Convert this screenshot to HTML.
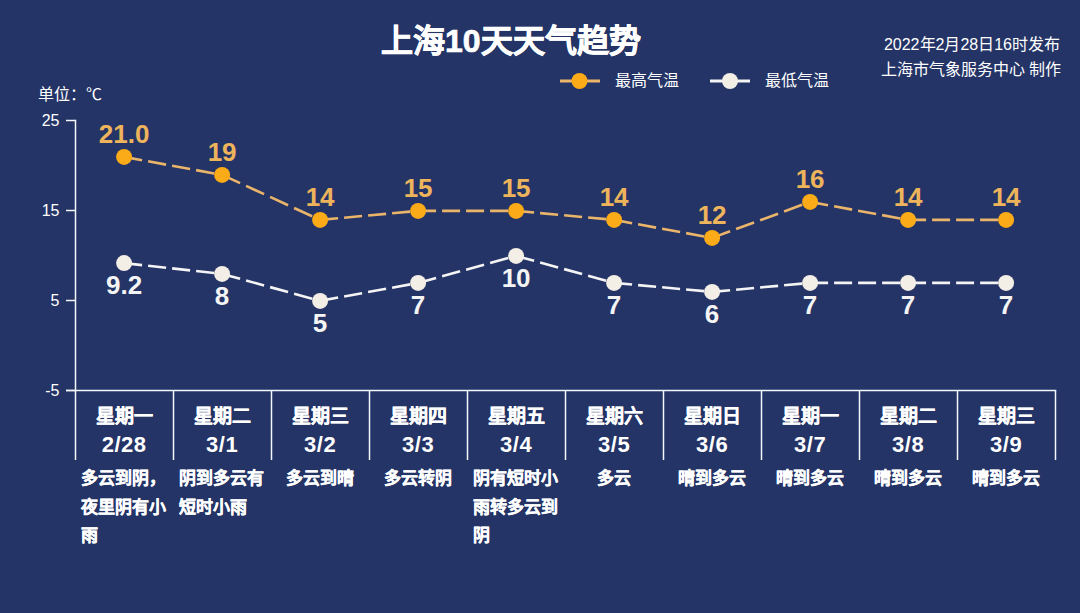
<!DOCTYPE html>
<html lang="zh-CN"><head><meta charset="utf-8"><style>
html,body{margin:0;padding:0;}
body{width:1080px;height:613px;background:#243466;position:relative;overflow:hidden;font-family:"Liberation Sans",sans-serif;}
.t{position:absolute;white-space:nowrap;line-height:1.2;}
svg{position:absolute;left:0;top:0;}
</style></head><body>
<svg width="1080" height="613" viewBox="0 0 1080 613">
<line x1="75.5" y1="119.75" x2="75.5" y2="390.5" stroke="#f3f7fd" stroke-width="1.5"/>
<line x1="66" y1="120.5" x2="75.5" y2="120.5" stroke="#f3f7fd" stroke-width="1.5"/>
<line x1="66" y1="210.5" x2="75.5" y2="210.5" stroke="#f3f7fd" stroke-width="1.5"/>
<line x1="66" y1="300.5" x2="75.5" y2="300.5" stroke="#f3f7fd" stroke-width="1.5"/>
<line x1="66" y1="390.5" x2="75.5" y2="390.5" stroke="#f3f7fd" stroke-width="1.5"/>
<line x1="66" y1="390.5" x2="1056.25" y2="390.5" stroke="#f3f7fd" stroke-width="1.5"/>
<line x1="75.5" y1="390.5" x2="75.5" y2="460" stroke="#f3f7fd" stroke-width="1.5"/>
<line x1="173.5" y1="390.5" x2="173.5" y2="460" stroke="#f3f7fd" stroke-width="1.5"/>
<line x1="271.5" y1="390.5" x2="271.5" y2="460" stroke="#f3f7fd" stroke-width="1.5"/>
<line x1="369.5" y1="390.5" x2="369.5" y2="460" stroke="#f3f7fd" stroke-width="1.5"/>
<line x1="467.5" y1="390.5" x2="467.5" y2="460" stroke="#f3f7fd" stroke-width="1.5"/>
<line x1="565.5" y1="390.5" x2="565.5" y2="460" stroke="#f3f7fd" stroke-width="1.5"/>
<line x1="663.5" y1="390.5" x2="663.5" y2="460" stroke="#f3f7fd" stroke-width="1.5"/>
<line x1="761.5" y1="390.5" x2="761.5" y2="460" stroke="#f3f7fd" stroke-width="1.5"/>
<line x1="859.5" y1="390.5" x2="859.5" y2="460" stroke="#f3f7fd" stroke-width="1.5"/>
<line x1="957.5" y1="390.5" x2="957.5" y2="460" stroke="#f3f7fd" stroke-width="1.5"/>
<line x1="1055.5" y1="390.5" x2="1055.5" y2="460" stroke="#f3f7fd" stroke-width="1.5"/>
<path d="M124.1 156.9L222.1 174.9" pathLength="98" fill="none" stroke="#eab56a" stroke-width="2.6" stroke-dasharray="18 6"/>
<path d="M222.1 174.9L320.1 219.9" pathLength="98" fill="none" stroke="#eab56a" stroke-width="2.6" stroke-dasharray="18 6"/>
<path d="M320.1 219.9L418.1 210.9" pathLength="98" fill="none" stroke="#eab56a" stroke-width="2.6" stroke-dasharray="18 6"/>
<path d="M418.1 210.9L516.1 210.9" pathLength="98" fill="none" stroke="#eab56a" stroke-width="2.6" stroke-dasharray="18 6"/>
<path d="M516.1 210.9L614.1 219.9" pathLength="98" fill="none" stroke="#eab56a" stroke-width="2.6" stroke-dasharray="18 6"/>
<path d="M614.1 219.9L712.1 237.9" pathLength="98" fill="none" stroke="#eab56a" stroke-width="2.6" stroke-dasharray="18 6"/>
<path d="M712.1 237.9L810.1 201.9" pathLength="98" fill="none" stroke="#eab56a" stroke-width="2.6" stroke-dasharray="18 6"/>
<path d="M810.1 201.9L908.1 219.9" pathLength="98" fill="none" stroke="#eab56a" stroke-width="2.6" stroke-dasharray="18 6"/>
<path d="M908.1 219.9L1006.1 219.9" pathLength="98" fill="none" stroke="#eab56a" stroke-width="2.6" stroke-dasharray="18 6"/>
<path d="M124.1 263.1L222.1 273.9" pathLength="98" fill="none" stroke="#f4f4f4" stroke-width="2.6" stroke-dasharray="18 6"/>
<path d="M222.1 273.9L320.1 300.9" pathLength="98" fill="none" stroke="#f4f4f4" stroke-width="2.6" stroke-dasharray="18 6"/>
<path d="M320.1 300.9L418.1 282.9" pathLength="98" fill="none" stroke="#f4f4f4" stroke-width="2.6" stroke-dasharray="18 6"/>
<path d="M418.1 282.9L516.1 255.9" pathLength="98" fill="none" stroke="#f4f4f4" stroke-width="2.6" stroke-dasharray="18 6"/>
<path d="M516.1 255.9L614.1 282.9" pathLength="98" fill="none" stroke="#f4f4f4" stroke-width="2.6" stroke-dasharray="18 6"/>
<path d="M614.1 282.9L712.1 291.9" pathLength="98" fill="none" stroke="#f4f4f4" stroke-width="2.6" stroke-dasharray="18 6"/>
<path d="M712.1 291.9L810.1 282.9" pathLength="98" fill="none" stroke="#f4f4f4" stroke-width="2.6" stroke-dasharray="18 6"/>
<path d="M810.1 282.9L908.1 282.9" pathLength="98" fill="none" stroke="#f4f4f4" stroke-width="2.6" stroke-dasharray="18 6"/>
<path d="M908.1 282.9L1006.1 282.9" pathLength="98" fill="none" stroke="#f4f4f4" stroke-width="2.6" stroke-dasharray="18 6"/>
<circle cx="124.1" cy="156.9" r="8" fill="#fbaa18"/>
<circle cx="124.1" cy="263.1" r="8" fill="#f3eee6"/>
<circle cx="222.1" cy="174.9" r="8" fill="#fbaa18"/>
<circle cx="222.1" cy="273.9" r="8" fill="#f3eee6"/>
<circle cx="320.1" cy="219.9" r="8" fill="#fbaa18"/>
<circle cx="320.1" cy="300.9" r="8" fill="#f3eee6"/>
<circle cx="418.1" cy="210.9" r="8" fill="#fbaa18"/>
<circle cx="418.1" cy="282.9" r="8" fill="#f3eee6"/>
<circle cx="516.1" cy="210.9" r="8" fill="#fbaa18"/>
<circle cx="516.1" cy="255.9" r="8" fill="#f3eee6"/>
<circle cx="614.1" cy="219.9" r="8" fill="#fbaa18"/>
<circle cx="614.1" cy="282.9" r="8" fill="#f3eee6"/>
<circle cx="712.1" cy="237.9" r="8" fill="#fbaa18"/>
<circle cx="712.1" cy="291.9" r="8" fill="#f3eee6"/>
<circle cx="810.1" cy="201.9" r="8" fill="#fbaa18"/>
<circle cx="810.1" cy="282.9" r="8" fill="#f3eee6"/>
<circle cx="908.1" cy="219.9" r="8" fill="#fbaa18"/>
<circle cx="908.1" cy="282.9" r="8" fill="#f3eee6"/>
<circle cx="1006.1" cy="219.9" r="8" fill="#fbaa18"/>
<circle cx="1006.1" cy="282.9" r="8" fill="#f3eee6"/>
<line x1="560" y1="81" x2="600" y2="81" stroke="#eab56a" stroke-width="3"/>
<circle cx="579.5" cy="81" r="8" fill="#fbaa18"/>
<line x1="710" y1="81" x2="750" y2="81" stroke="#f4f4f4" stroke-width="3"/>
<circle cx="730" cy="81" r="8" fill="#f3eee6"/>
</svg>
<div class="t" style="left:381px;top:22px;font-size:32px;color:#fff;font-weight:bold;-webkit-text-stroke:0.7px #fff;">上海10天天气趋势</div>
<div class="t" style="left:1060px;top:34.5px;font-size:16px;color:#fff;width:300px;margin-left:-300px;text-align:right;">2022年2月28日16时发布</div>
<div class="t" style="left:1061px;top:60px;font-size:16px;color:#fff;width:300px;margin-left:-300px;text-align:right;">上海市气象服务中心 制作</div>
<div class="t" style="left:615px;top:71px;font-size:16px;color:#fff;">最高气温</div>
<div class="t" style="left:765px;top:71px;font-size:16px;color:#fff;">最低气温</div>
<div class="t" style="left:38px;top:84.5px;font-size:16px;color:#fff;">单位：℃</div>
<div class="t" style="left:59.5px;top:110.5px;font-size:16px;color:#fff;width:40px;margin-left:-40px;text-align:right;">25</div>
<div class="t" style="left:59.5px;top:200.5px;font-size:16px;color:#fff;width:40px;margin-left:-40px;text-align:right;">15</div>
<div class="t" style="left:59.5px;top:290.5px;font-size:16px;color:#fff;width:40px;margin-left:-40px;text-align:right;">5</div>
<div class="t" style="left:59.5px;top:380.5px;font-size:16px;color:#fff;width:40px;margin-left:-40px;text-align:right;">-5</div>
<div class="t" style="left:124.1px;top:118.5px;font-size:26px;color:#eeb45c;font-weight:bold;width:90px;margin-left:-45.0px;text-align:center;">21.0</div>
<div class="t" style="left:124.1px;top:269.70000000000005px;font-size:26px;color:#f4f4f4;font-weight:bold;width:90px;margin-left:-45.0px;text-align:center;">9.2</div>
<div class="t" style="left:124.1px;top:405.5px;font-size:19px;color:#fff;font-weight:bold;width:98px;margin-left:-49.0px;text-align:center;-webkit-text-stroke:0.3px #fff;">星期一</div>
<div class="t" style="left:124.1px;top:431.5px;font-size:22px;color:#fff;font-weight:bold;width:98px;margin-left:-49.0px;text-align:center;letter-spacing:0.5px;">2/28</div>
<div class="t" style="left:81.0px;top:469.0px;font-size:17px;color:#fff;font-weight:bold;-webkit-text-stroke:0.3px #fff;">多云到阴，</div>
<div class="t" style="left:81.0px;top:497.6px;font-size:17px;color:#fff;font-weight:bold;-webkit-text-stroke:0.3px #fff;">夜里阴有小</div>
<div class="t" style="left:81.0px;top:526.2px;font-size:17px;color:#fff;font-weight:bold;-webkit-text-stroke:0.3px #fff;">雨</div>
<div class="t" style="left:222.1px;top:136.5px;font-size:26px;color:#eeb45c;font-weight:bold;width:90px;margin-left:-45.0px;text-align:center;">19</div>
<div class="t" style="left:222.1px;top:280.5px;font-size:26px;color:#f4f4f4;font-weight:bold;width:90px;margin-left:-45.0px;text-align:center;">8</div>
<div class="t" style="left:222.1px;top:405.5px;font-size:19px;color:#fff;font-weight:bold;width:98px;margin-left:-49.0px;text-align:center;-webkit-text-stroke:0.3px #fff;">星期二</div>
<div class="t" style="left:222.1px;top:431.5px;font-size:22px;color:#fff;font-weight:bold;width:98px;margin-left:-49.0px;text-align:center;letter-spacing:0.5px;">3/1</div>
<div class="t" style="left:179.0px;top:469.0px;font-size:17px;color:#fff;font-weight:bold;-webkit-text-stroke:0.3px #fff;">阴到多云有</div>
<div class="t" style="left:179.0px;top:497.6px;font-size:17px;color:#fff;font-weight:bold;-webkit-text-stroke:0.3px #fff;">短时小雨</div>
<div class="t" style="left:320.1px;top:181.5px;font-size:26px;color:#eeb45c;font-weight:bold;width:90px;margin-left:-45.0px;text-align:center;">14</div>
<div class="t" style="left:320.1px;top:307.5px;font-size:26px;color:#f4f4f4;font-weight:bold;width:90px;margin-left:-45.0px;text-align:center;">5</div>
<div class="t" style="left:320.1px;top:405.5px;font-size:19px;color:#fff;font-weight:bold;width:98px;margin-left:-49.0px;text-align:center;-webkit-text-stroke:0.3px #fff;">星期三</div>
<div class="t" style="left:320.1px;top:431.5px;font-size:22px;color:#fff;font-weight:bold;width:98px;margin-left:-49.0px;text-align:center;letter-spacing:0.5px;">3/2</div>
<div class="t" style="left:320.1px;top:469px;font-size:17px;color:#fff;font-weight:bold;width:98px;margin-left:-49.0px;text-align:center;-webkit-text-stroke:0.3px #fff;">多云到晴</div>
<div class="t" style="left:418.1px;top:172.5px;font-size:26px;color:#eeb45c;font-weight:bold;width:90px;margin-left:-45.0px;text-align:center;">15</div>
<div class="t" style="left:418.1px;top:289.5px;font-size:26px;color:#f4f4f4;font-weight:bold;width:90px;margin-left:-45.0px;text-align:center;">7</div>
<div class="t" style="left:418.1px;top:405.5px;font-size:19px;color:#fff;font-weight:bold;width:98px;margin-left:-49.0px;text-align:center;-webkit-text-stroke:0.3px #fff;">星期四</div>
<div class="t" style="left:418.1px;top:431.5px;font-size:22px;color:#fff;font-weight:bold;width:98px;margin-left:-49.0px;text-align:center;letter-spacing:0.5px;">3/3</div>
<div class="t" style="left:418.1px;top:469px;font-size:17px;color:#fff;font-weight:bold;width:98px;margin-left:-49.0px;text-align:center;-webkit-text-stroke:0.3px #fff;">多云转阴</div>
<div class="t" style="left:516.1px;top:172.5px;font-size:26px;color:#eeb45c;font-weight:bold;width:90px;margin-left:-45.0px;text-align:center;">15</div>
<div class="t" style="left:516.1px;top:262.5px;font-size:26px;color:#f4f4f4;font-weight:bold;width:90px;margin-left:-45.0px;text-align:center;">10</div>
<div class="t" style="left:516.1px;top:405.5px;font-size:19px;color:#fff;font-weight:bold;width:98px;margin-left:-49.0px;text-align:center;-webkit-text-stroke:0.3px #fff;">星期五</div>
<div class="t" style="left:516.1px;top:431.5px;font-size:22px;color:#fff;font-weight:bold;width:98px;margin-left:-49.0px;text-align:center;letter-spacing:0.5px;">3/4</div>
<div class="t" style="left:473.0px;top:469.0px;font-size:17px;color:#fff;font-weight:bold;-webkit-text-stroke:0.3px #fff;">阴有短时小</div>
<div class="t" style="left:473.0px;top:497.6px;font-size:17px;color:#fff;font-weight:bold;-webkit-text-stroke:0.3px #fff;">雨转多云到</div>
<div class="t" style="left:473.0px;top:526.2px;font-size:17px;color:#fff;font-weight:bold;-webkit-text-stroke:0.3px #fff;">阴</div>
<div class="t" style="left:614.1px;top:181.5px;font-size:26px;color:#eeb45c;font-weight:bold;width:90px;margin-left:-45.0px;text-align:center;">14</div>
<div class="t" style="left:614.1px;top:289.5px;font-size:26px;color:#f4f4f4;font-weight:bold;width:90px;margin-left:-45.0px;text-align:center;">7</div>
<div class="t" style="left:614.1px;top:405.5px;font-size:19px;color:#fff;font-weight:bold;width:98px;margin-left:-49.0px;text-align:center;-webkit-text-stroke:0.3px #fff;">星期六</div>
<div class="t" style="left:614.1px;top:431.5px;font-size:22px;color:#fff;font-weight:bold;width:98px;margin-left:-49.0px;text-align:center;letter-spacing:0.5px;">3/5</div>
<div class="t" style="left:614.1px;top:469px;font-size:17px;color:#fff;font-weight:bold;width:98px;margin-left:-49.0px;text-align:center;-webkit-text-stroke:0.3px #fff;">多云</div>
<div class="t" style="left:712.1px;top:199.5px;font-size:26px;color:#eeb45c;font-weight:bold;width:90px;margin-left:-45.0px;text-align:center;">12</div>
<div class="t" style="left:712.1px;top:298.5px;font-size:26px;color:#f4f4f4;font-weight:bold;width:90px;margin-left:-45.0px;text-align:center;">6</div>
<div class="t" style="left:712.1px;top:405.5px;font-size:19px;color:#fff;font-weight:bold;width:98px;margin-left:-49.0px;text-align:center;-webkit-text-stroke:0.3px #fff;">星期日</div>
<div class="t" style="left:712.1px;top:431.5px;font-size:22px;color:#fff;font-weight:bold;width:98px;margin-left:-49.0px;text-align:center;letter-spacing:0.5px;">3/6</div>
<div class="t" style="left:712.1px;top:469px;font-size:17px;color:#fff;font-weight:bold;width:98px;margin-left:-49.0px;text-align:center;-webkit-text-stroke:0.3px #fff;">晴到多云</div>
<div class="t" style="left:810.1px;top:163.5px;font-size:26px;color:#eeb45c;font-weight:bold;width:90px;margin-left:-45.0px;text-align:center;">16</div>
<div class="t" style="left:810.1px;top:289.5px;font-size:26px;color:#f4f4f4;font-weight:bold;width:90px;margin-left:-45.0px;text-align:center;">7</div>
<div class="t" style="left:810.1px;top:405.5px;font-size:19px;color:#fff;font-weight:bold;width:98px;margin-left:-49.0px;text-align:center;-webkit-text-stroke:0.3px #fff;">星期一</div>
<div class="t" style="left:810.1px;top:431.5px;font-size:22px;color:#fff;font-weight:bold;width:98px;margin-left:-49.0px;text-align:center;letter-spacing:0.5px;">3/7</div>
<div class="t" style="left:810.1px;top:469px;font-size:17px;color:#fff;font-weight:bold;width:98px;margin-left:-49.0px;text-align:center;-webkit-text-stroke:0.3px #fff;">晴到多云</div>
<div class="t" style="left:908.1px;top:181.5px;font-size:26px;color:#eeb45c;font-weight:bold;width:90px;margin-left:-45.0px;text-align:center;">14</div>
<div class="t" style="left:908.1px;top:289.5px;font-size:26px;color:#f4f4f4;font-weight:bold;width:90px;margin-left:-45.0px;text-align:center;">7</div>
<div class="t" style="left:908.1px;top:405.5px;font-size:19px;color:#fff;font-weight:bold;width:98px;margin-left:-49.0px;text-align:center;-webkit-text-stroke:0.3px #fff;">星期二</div>
<div class="t" style="left:908.1px;top:431.5px;font-size:22px;color:#fff;font-weight:bold;width:98px;margin-left:-49.0px;text-align:center;letter-spacing:0.5px;">3/8</div>
<div class="t" style="left:908.1px;top:469px;font-size:17px;color:#fff;font-weight:bold;width:98px;margin-left:-49.0px;text-align:center;-webkit-text-stroke:0.3px #fff;">晴到多云</div>
<div class="t" style="left:1006.1px;top:181.5px;font-size:26px;color:#eeb45c;font-weight:bold;width:90px;margin-left:-45.0px;text-align:center;">14</div>
<div class="t" style="left:1006.1px;top:289.5px;font-size:26px;color:#f4f4f4;font-weight:bold;width:90px;margin-left:-45.0px;text-align:center;">7</div>
<div class="t" style="left:1006.1px;top:405.5px;font-size:19px;color:#fff;font-weight:bold;width:98px;margin-left:-49.0px;text-align:center;-webkit-text-stroke:0.3px #fff;">星期三</div>
<div class="t" style="left:1006.1px;top:431.5px;font-size:22px;color:#fff;font-weight:bold;width:98px;margin-left:-49.0px;text-align:center;letter-spacing:0.5px;">3/9</div>
<div class="t" style="left:1006.1px;top:469px;font-size:17px;color:#fff;font-weight:bold;width:98px;margin-left:-49.0px;text-align:center;-webkit-text-stroke:0.3px #fff;">晴到多云</div>
</body></html>
